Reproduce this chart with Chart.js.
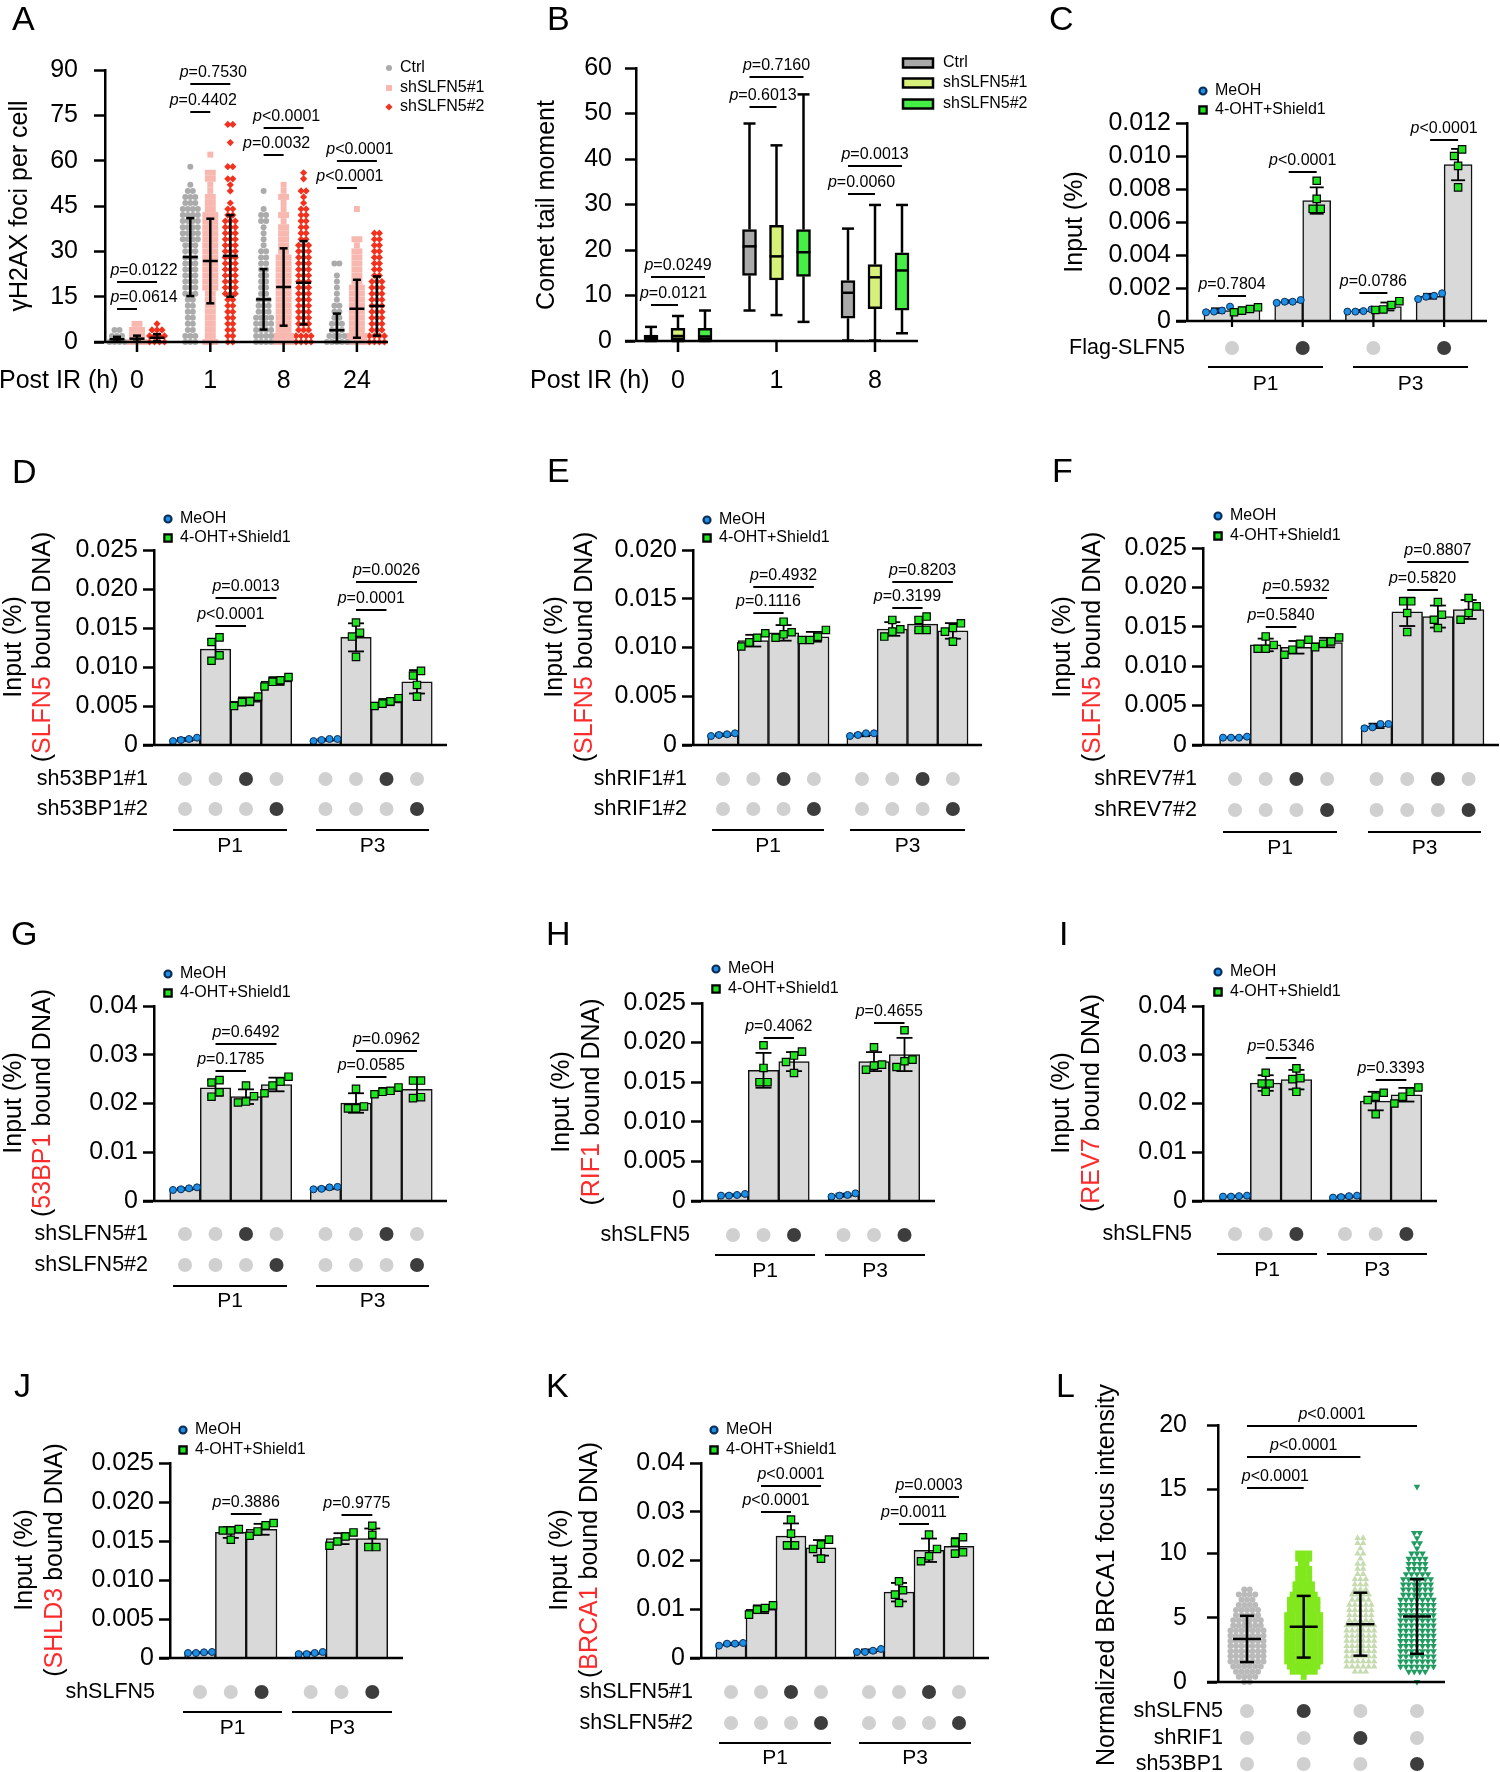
<!DOCTYPE html>
<html>
<head>
<meta charset="utf-8">
<script src="https://cdn.jsdelivr.net/npm/chart.js@4.4.1/dist/chart.umd.min.js"></script>
<style>
  html, body { margin: 0; padding: 0; background: #fff; }
  body { width: 1500px; height: 1772px; position: relative; overflow: hidden; }
  canvas { position: absolute; }
</style>
</head>
<body>
<script>
const FONT = '"Liberation Sans", Arial, Helvetica, sans-serif';
const RED = '#ff2b2b';
const BLUE = '#1c8fe6';
const GREEN = '#1ee61e';
const BAR_FILL = '#d9d9d9';
const DOT_OFF = '#d0d0d0';
const DOT_ON = '#3d3d3d';

// ---------- shared categories ----------
const pGroups = ['P1', 'P3'];
const sh1On = [0, 0, 1, 0, 0, 0, 1, 0];
const sh2On = [0, 0, 0, 1, 0, 0, 0, 1];
const shOn3 = [0, 0, 1, 0, 0, 1];

// ---------- A: yH2AX foci per cell (rows of cells per foci count) ----------
const aTimes = ['0', '1', '8', '24'];
const aNames = ['Ctrl', 'shSLFN5#1', 'shSLFN5#2'];
const aBins = [0, 2, 4, 6, 8, 10, 12, 14, 16, 18, 20, 22, 24, 26, 28, 30, 32, 34, 36, 38, 40, 42, 44, 46, 48, 50, 52, 54, 56, 58, 60, 62, 64, 66, 68, 70, 72];
const aCtrlH0 = [4, 3, 2];
const aSh1H0 = [4, 3, 3, 2];
const aSh2H0 = [4, 4, 3, 1];
const aCtrlH1 = [3, 3, 2, 2, 2, 2, 2, 2, 3, 3, 3, 3, 3, 3, 3, 3, 3, 4, 4, 4, 4, 4, 4, 3, 3, 2, 1, 0, 0, 1];
const aSh1H1 = [3, 2, 2, 2, 2, 2, 2, 2, 2, 3, 3, 3, 3, 3, 3, 3, 3, 3, 3, 3, 3, 3, 2, 2, 2, 1, 1, 2, 2, 0, 0, 1];
const aSh2H1 = [2, 2, 2, 2, 2, 2, 2, 2, 3, 3, 3, 3, 3, 3, 3, 3, 3, 3, 3, 3, 3, 2, 2, 1, 0, 1, 1, 2, 0, 2, 0, 0, 0, 1, 0, 0, 2];
const aCtrlH8 = [4, 4, 4, 4, 4, 3, 3, 3, 2, 2, 2, 2, 2, 2, 2, 2, 1, 1, 1, 1, 2, 2, 1, 0, 0, 1];
const aSh1H8 = [4, 4, 3, 3, 3, 3, 3, 3, 3, 3, 3, 3, 3, 3, 3, 2, 2, 2, 2, 2, 1, 2, 1, 1, 2, 1, 1];
const aSh2H8 = [4, 4, 3, 3, 3, 3, 3, 3, 3, 3, 3, 3, 3, 3, 3, 3, 3, 2, 2, 2, 2, 2, 2, 1, 1, 2, 0, 1, 1];
const aCtrlH24 = [5, 4, 3, 3, 2, 2, 2, 1, 1, 1, 1, 1, 0, 2];
const aSh1H24 = [4, 4, 3, 3, 3, 3, 3, 3, 3, 3, 2, 2, 2, 2, 2, 2, 1, 2, 0, 0, 0, 0, 1];
const aSh2H24 = [4, 4, 3, 3, 3, 3, 3, 3, 3, 3, 3, 2, 2, 2, 2, 2, 2, 2, 2];
const aMeanCtrl = [0.9, 28.1, 14.1, 3.9];
const aSdCtrl = [0.8, 12.9, 10.0, 5.5];
const aMeanSh1 = [1.1, 26.8, 18.2, 11.0];
const aSdSh1 = [1.0, 14.0, 12.8, 9.6];
const aMeanSh2 = [1.4, 28.5, 19.6, 11.9];
const aSdSh2 = [1.2, 13.5, 13.8, 9.8];
const aP = ['p=0.0122', 'p=0.0614', 'p=0.7530', 'p=0.4402', 'p<0.0001', 'p=0.0032', 'p<0.0001', 'p<0.0001'];

// ---------- B: comet tail moment, [min, q1, median, q3, max] ----------
const bTimes = ['0', '1', '8'];
const bCtrl = [[0, 0.2, 0.7, 1.3, 3.1], [6.7, 14.4, 20.8, 24.5, 47.8], [0.1, 5.0, 10.6, 13.3, 24.7]];
const bSh1 = [[0, 0.3, 1.1, 2.8, 5.5], [5.7, 13.4, 18.6, 25.4, 43.0], [0.1, 7.1, 14.0, 16.8, 29.9]];
const bSh2 = [[0, 0.3, 1.0, 2.8, 6.7], [4.2, 14.2, 19.5, 24.5, 54.2], [1.7, 6.8, 15.5, 19.4, 29.9]];
const bP = ['p=0.0249', 'p=0.0121', 'p=0.7160', 'p=0.6013', 'p=0.0013', 'p=0.0060'];

// ---------- C ----------
const cMean = [0.00063, 0.00068, 0.00118, 0.0073, 0.00061, 0.00088, 0.0015, 0.00948];
const cSd = [0.00014, 0.00013, 0.00007, 0.0008, 0.00006, 0.00024, 0.00015, 0.00095];
const cPts = [[0.00053, 0.00087, 0.00063, 0.00057], [0.00053, 0.00083, 0.00063, 0.00073], [0.0011, 0.00127, 0.00117, 0.00117], [0.0085, 0.0074, 0.0068, 0.0068],
              [0.00057, 0.0007, 0.00057, 0.0006], [0.0007, 0.00097, 0.0012, 0.00067], [0.00168, 0.00133, 0.00153, 0.00147], [0.0104, 0.0100, 0.0094, 0.0081]];
const cFlag = [0, 1, 0, 1];
const cP = ['p=0.7804', 'p<0.0001', 'p=0.0786', 'p<0.0001'];

// ---------- D: SLFN5 bound DNA, sh53BP1 ----------
const dMean = [0.00071, 0.0123, 0.0056, 0.0082, 0.00067, 0.0138, 0.0055, 0.0081];
const dSd = [0.00018, 0.0012, 0.0005, 0.0005, 0.00013, 0.0018, 0.0004, 0.0015];
const dPts = [[0.0005, 0.00094, 0.00064, 0.00077], [0.0132, 0.0138, 0.0108, 0.0115], [0.0050, 0.0056, 0.0062, 0.0055], [0.0075, 0.0083, 0.0087, 0.0081],
              [0.0005, 0.00077, 0.00064, 0.00077], [0.0157, 0.0144, 0.0139, 0.0113], [0.0050, 0.0056, 0.0060, 0.0053], [0.0095, 0.0089, 0.0077, 0.0062]];
const dP = ['p=0.0013', 'p<0.0001', 'p=0.0026', 'p=0.0001'];

// ---------- E: SLFN5 bound DNA, shRIF1 ----------
const eMean = [0.00105, 0.0107, 0.0115, 0.0111, 0.00104, 0.0119, 0.0124, 0.0117];
const eSd = [0.00012, 0.0006, 0.0008, 0.0005, 0.00014, 0.0007, 0.0007, 0.0008];
const ePts = [[0.00092, 0.0012, 0.00103, 0.0011], [0.0110, 0.01146, 0.0101, 0.01053], [0.0110, 0.01265, 0.01156, 0.01135], [0.01077, 0.0118, 0.0111, 0.01077],
              [0.00092, 0.0012, 0.00103, 0.0012], [0.01187, 0.01283, 0.01163, 0.01112], [0.01283, 0.01317, 0.0118, 0.0118], [0.0120, 0.01248, 0.01163, 0.0106]];
const eP = ['p=0.4932', 'p=0.1116', 'p=0.8203', 'p=0.3199'];

// ---------- F: SLFN5 bound DNA, shREV7 ----------
const fMean = [0.00096, 0.0127, 0.0124, 0.0130, 0.00243, 0.0169, 0.0163, 0.0172];
const fSd = [0.00007, 0.0008, 0.0008, 0.0006, 0.00028, 0.0018, 0.0014, 0.0012];
const fPts = [[0.00093, 0.00106, 0.00093, 0.00093], [0.01221, 0.01378, 0.0127, 0.01221], [0.01285, 0.01145, 0.01336, 0.0121], [0.01242, 0.01314, 0.01365, 0.01285],
              [0.00212, 0.00267, 0.00225, 0.00267], [0.01823, 0.01823, 0.01675, 0.01433], [0.01815, 0.01654, 0.0159, 0.01484], [0.01866, 0.0176, 0.01675, 0.0159]];
const fP = ['p=0.5932', 'p=0.5840', 'p=0.8807', 'p=0.5820'];

// ---------- G: 53BP1 bound DNA ----------
const gMean = [0.0025, 0.0232, 0.0214, 0.0239, 0.0026, 0.0201, 0.0226, 0.0229];
const gSd = [0.0002, 0.0016, 0.0015, 0.0014, 0.0002, 0.0020, 0.0006, 0.0020];
const gPts = [[0.00226, 0.0028, 0.0024, 0.0026], [0.0243, 0.0248, 0.0214, 0.0223], [0.0237, 0.0215, 0.0204, 0.0202], [0.0255, 0.0245, 0.0237, 0.0221],
              [0.0024, 0.0029, 0.0025, 0.0028], [0.0230, 0.0190, 0.0194, 0.0190], [0.0233, 0.0219, 0.0226, 0.0224], [0.0247, 0.0247, 0.0211, 0.0213]];
const gP = ['p=0.6492', 'p=0.1785', 'p=0.0962', 'p=0.0585'];

// ---------- H: RIF1 bound DNA ----------
const hMean = [0.00075, 0.0165, 0.0176, 0.00074, 0.0176, 0.0185];
const hSd = [0.0001, 0.0022, 0.0012, 0.00018, 0.0012, 0.0021];
const hPts = [[0.00068, 0.00089, 0.00068, 0.00076], [0.01966, 0.0168, 0.0150, 0.0150], [0.01836, 0.01886, 0.01755, 0.01616],
              [0.00055, 0.00097, 0.00068, 0.00076], [0.01658, 0.01941, 0.01722, 0.01709], [0.02156, 0.01785, 0.01764, 0.01692]];
const hP = ['p=0.4062', 'p=0.4655'];

// ---------- I: REV7 bound DNA ----------
const iMean = [0.00098, 0.0242, 0.0249, 0.0009, 0.0205, 0.0218];
const iSd = [0.0001, 0.0016, 0.0020, 0.0002, 0.0019, 0.0014];
const iPts = [[0.0009, 0.0011, 0.0009, 0.0010], [0.0263, 0.0241, 0.0241, 0.0224], [0.0272, 0.0252, 0.0250, 0.0224],
              [0.0007, 0.0011, 0.0008, 0.0010], [0.0214, 0.0222, 0.0207, 0.0178], [0.0224, 0.0233, 0.0214, 0.0200]];
const iP = ['p=0.5346', 'p=0.3393'];

// ---------- J: SHLD3 bound DNA ----------
const jMean = [0.00069, 0.0161, 0.0165, 0.00059, 0.0153, 0.0153];
const jSd = [0.00007, 0.0007, 0.0007, 0.0001, 0.0007, 0.0013];
const jPts = [[0.00064, 0.00077, 0.00064, 0.00073], [0.01652, 0.01635, 0.01516, 0.01635], [0.01567, 0.0170, 0.0173, 0.01623],
              [0.0005, 0.00077, 0.0005, 0.00064], [0.01558, 0.0161, 0.01439, 0.01494], [0.01695, 0.0158, 0.01422, 0.01422]];
const jP = ['p=0.3886', 'p=0.9775'];

// ---------- K: BRCA1 bound DNA ----------
const kMean = [0.00287, 0.0100, 0.0250, 0.0226, 0.00145, 0.0135, 0.0221, 0.0229];
const kSd = [0.00024, 0.0008, 0.0026, 0.0016, 0.0003, 0.0019, 0.0024, 0.0017];
const kPts = [[0.00253, 0.00308, 0.00294, 0.00294], [0.0108, 0.0089, 0.01026, 0.00992], [0.02839, 0.02551, 0.02312, 0.02312], [0.02428, 0.02237, 0.02326, 0.02038],
              [0.00123, 0.00185, 0.00123, 0.0015], [0.01573, 0.01389, 0.0130, 0.01129], [0.02531, 0.02237, 0.02086, 0.01984], [0.02476, 0.02373, 0.02168, 0.02141]];
const kP = ['p<0.0001', 'p<0.0001', 'p=0.0003', 'p=0.0011'];

// ---------- L: normalized BRCA1 focus intensity (rows of foci per level) ----------
const lBins = [0, 0.4, 0.8, 1.2, 1.6, 2, 2.4, 2.8, 3.2, 3.6, 4, 4.4, 4.8, 5.2, 5.6, 6, 6.4, 6.8, 7.2, 7.6, 8, 8.4, 8.8, 9.2, 9.6, 10, 10.4, 10.8, 11.2, 11.6, 12, 12.4, 12.8, 13.2, 13.6, 14, 14.4, 14.8, 15.2];
const lCtrl = [2, 4, 5, 6, 7, 7, 7, 7, 7, 7, 7, 6, 6, 5, 5, 4, 3, 4, 2];
const lShSlfn5 = [0, 1, 5, 6, 7, 7, 7, 7, 7, 7, 7, 7, 7, 7, 6, 6, 6, 5, 4, 4, 3, 3, 3, 2, 3, 3];
const lShRif1 = [0, 0, 3, 6, 6, 6, 6, 6, 6, 6, 6, 6, 5, 5, 5, 5, 4, 4, 3, 3, 3, 2, 2, 2, 1, 2, 1, 2, 2];
const lSh53bp1 = [1, 0, 4, 7, 7, 7, 7, 7, 7, 7, 7, 7, 7, 7, 7, 7, 7, 6, 6, 6, 6, 5, 4, 4, 4, 3, 1, 2, 1, 2, 0, 0, 0, 0, 0, 0, 0, 0, 1];
const lMean = [3.35, 4.3, 4.5, 5.1];
const lSd = [1.8, 2.4, 2.45, 2.9];
const lSlfn5On = [0, 1, 0, 0];
const lRif1On = [0, 0, 1, 0];
const l53bp1On = [0, 0, 0, 1];
const lP = ['p<0.0001', 'p<0.0001', 'p<0.0001'];

// ---------- drawing helpers ----------
function txt(ctx, s, x, y, size, align, base, style) {
  ctx.font = (style ? style + ' ' : '') + size + 'px ' + FONT;
  ctx.textAlign = align;
  ctx.textBaseline = base;
  ctx.fillText(s, x, y);
}

function seg(ctx, x1, y1, x2, y2, w) {
  ctx.lineWidth = w;
  ctx.beginPath();
  ctx.moveTo(x1, y1);
  ctx.lineTo(x2, y2);
  ctx.stroke();
}

// rotated (bottom-to-top) title made of coloured parts
function vtext(ctx, cx, cy, parts) {
  ctx.save();
  ctx.translate(cx, cy);
  ctx.rotate(-Math.PI / 2);
  ctx.font = '25px ' + FONT;
  ctx.textAlign = 'left';
  ctx.textBaseline = 'middle';
  const total = parts.reduce((s, p) => s + ctx.measureText(p[0]).width, 0);
  let x = -total / 2;
  parts.forEach(([t, col]) => {
    ctx.fillStyle = col;
    ctx.fillText(t, x, 0);
    x += ctx.measureText(t).width;
  });
  ctx.restore();
}

// "p=0.0013" with italic p
function ptext(ctx, cx, base, s) {
  const rest = s.slice(1);
  ctx.font = 'italic 16px ' + FONT;
  const w1 = ctx.measureText('p').width;
  ctx.font = '16px ' + FONT;
  const w2 = ctx.measureText(rest).width;
  const x = cx - (w1 + w2) / 2;
  txt(ctx, 'p', x, base, 16, 'left', 'alphabetic', 'italic');
  txt(ctx, rest, x + w1, base, 16, 'left', 'alphabetic');
}

// put points that overlap vertically side by side in one row
function spread(vals, k, d) {
  const idx = vals.map((v, i) => i).sort((a, b) => vals[a] - vals[b]);
  const off = [];
  let row = [];
  const flush = () => { row.forEach((ii, n) => { off[ii] = (n - (row.length - 1) / 2) * d; }); row = []; };
  idx.forEach(i => {
    if (row.length && (vals[i] - vals[row[row.length - 1]]) * k >= d) flush();
    row.push(i);
  });
  flush();
  return off;
}

function rowsToPoints(counts, bins, cx, d) {
  const out = [];
  counts.forEach((n, b) => {
    for (let q = 0; q < n; q++) out.push({x: cx + (q - (n - 1) / 2) * d, y: bins[b]});
  });
  return out;
}

function tools(chart, L) {
  const [bl, bt] = L.box;
  return {
    ctx: chart.ctx,
    X: v => chart.scales.x.getPixelForValue(v),
    Y: v => chart.scales.y.getPixelForValue(v),
    px: x => x - bl,
    py: y => y - bt
  };
}

function common(T, L, colX) {
  const {ctx, X, px, py} = T;
  const [ax, , rx, zy] = L.area;
  ctx.save();
  ctx.strokeStyle = '#000';
  ctx.fillStyle = '#000';
  seg(ctx, px(ax - 11), py(zy), px(rx), py(zy), 2.5);
  txt(ctx, L.letter[0], px(L.letter[1]), py(L.letter[2]), 34, 'left', 'alphabetic');
  L.title.forEach(([cx, parts]) => vtext(ctx, px(cx), py(L.titleY), parts));
  ctx.fillStyle = '#000';
  L.br.forEach(([i, j, y, dx], n) => {
    const x1 = X(colX[i]), x2 = X(colX[j]);
    seg(ctx, x1, py(y), x2, py(y), 2);
    ptext(ctx, (x1 + x2) / 2 + (dx || 0), py(y) - 7, L.p[n]);
  });
  if (L.rows) {
    const dx = L.dotX || colX;
    L.rows.forEach(([label, y, on]) => {
      ctx.fillStyle = '#000';
      txt(ctx, label, px(L.rowX), py(y), 21.5, 'right', 'middle');
      on.forEach((v, i) => {
        ctx.fillStyle = v ? DOT_ON : DOT_OFF;
        ctx.beginPath();
        ctx.arc(X(dx[i]), py(y), 7, 0, Math.PI * 2);
        ctx.fill();
      });
    });
  }
  if (L.gl) {
    ctx.fillStyle = '#000';
    L.gl.forEach(([x1, x2], g) => {
      seg(ctx, px(x1), py(L.gy), px(x2), py(L.gy), 2.2);
      txt(ctx, pGroups[g], px((x1 + x2) / 2), py(L.gly), 21, 'center', 'middle');
    });
  }
  if (L.leg) {
    const [x, y1, y2] = L.leg;
    ctx.fillStyle = BLUE; ctx.strokeStyle = '#0b2d57';
    Chart.helpers.drawPoint(ctx, {pointStyle: 'circle', radius: 3.5, borderWidth: 1}, px(x), py(y1));
    ctx.fillStyle = GREEN; ctx.strokeStyle = '#000';
    Chart.helpers.drawPoint(ctx, {pointStyle: 'rect', radius: 5.2, borderWidth: 1.2}, px(x), py(y2));
    ctx.fillStyle = '#000';
    txt(ctx, 'MeOH', px(x + 12), py(y1), 16, 'left', 'middle');
    txt(ctx, '4-OHT+Shield1', px(x + 12), py(y2), 16, 'left', 'middle');
  }
  ctx.restore();
}

function makePanel(L, type, datasets, colX, under, extra) {
  const [bl, bt, bw, bh] = L.box;
  const [ax, ty, rx, zy] = L.area;
  const cv = document.createElement('canvas');
  cv.width = bw;
  cv.height = bh;
  cv.style.left = bl + 'px';
  cv.style.top = bt + 'px';
  document.body.appendChild(cv);
  const yW = 90;  // wide enough that the tick labels are not clipped
  return new Chart(cv, {
    type,
    data: {datasets},
    options: {
      responsive: false, animation: false, events: [], devicePixelRatio: 1,
      layout: {autoPadding: false, padding: {left: ax - bl - yW, top: ty - bt, right: bl + bw - rx, bottom: bt + bh - zy}},
      plugins: {legend: {display: false}, tooltip: {enabled: false}},
      scales: {
        x: {type: 'linear', min: 0, max: rx - ax, offset: false, display: false, grid: {offset: false}},
        y: {
          type: 'linear', min: 0, max: L.yMax,
          afterFit: s => { s.width = yW; },
          ticks: {stepSize: L.yStep, autoSkip: false, padding: L.tickPad, color: '#000',
                  font: {family: FONT, size: 25}, callback: v => v === 0 ? '0' : v.toFixed(L.dec)},
          grid: {drawOnChartArea: false, drawTicks: true, tickLength: 11, tickWidth: 2.5, tickColor: '#000'},
          border: {display: true, width: 2.5, color: '#000'}
        }
      }
    },
    plugins: [{
      id: 'deco',
      afterDatasetDraw(chart, args) { if (under && args.index === 0) under(tools(chart, L)); },
      afterDraw(chart) {
        const T = tools(chart, L);
        common(T, L, colX);
        if (extra) extra(T);
      }
    }]
  });
}

// bar + replicate dots + mean/SD panels (C..K)
function barPanel(L, mean, sd, pts) {
  const k = (L.area[3] - L.area[1]) / L.yMax;
  const xs = mean.map((m, i) => L.lead + L.pitch * (i % L.per) + L.gPitch * Math.floor(i / L.per));
  const meoh = [], oht = [];
  pts.forEach((vals, i) => {
    const off = spread(vals, k, 8);
    vals.forEach((v, n) => (i % L.per === 0 ? meoh : oht).push({x: xs[i] + off[n], y: v}));
  });
  const datasets = [
    {type: 'bar', data: xs.map((x, i) => ({x, y: mean[i]})), backgroundColor: BAR_FILL, borderColor: '#111',
     borderWidth: 1.5, barThickness: L.pitch, order: 2, clip: false},
    {type: 'scatter', data: meoh, pointStyle: 'circle', pointRadius: 3.5, backgroundColor: BLUE,
     borderColor: '#0b2d57', borderWidth: 1, order: 1, clip: false},
    {type: 'scatter', data: oht, pointStyle: 'rect', pointRadius: 5.2, backgroundColor: GREEN,
     borderColor: '#000', borderWidth: 1.2, order: 0, clip: false}
  ];
  const under = T => {
    const {ctx, X, Y} = T;
    ctx.save();
    ctx.strokeStyle = '#000';
    xs.forEach((x, i) => {
      const cx = X(x), t = Y(mean[i] + sd[i]), b = Y(Math.max(mean[i] - sd[i], 0)), h = L.cap / 2;
      seg(ctx, cx, t, cx, b, 1.8);
      seg(ctx, cx - h, t, cx + h, t, 1.8);
      seg(ctx, cx - h, b, cx + h, b, 1.8);
    });
    ctx.restore();
  };
  let extra = null;
  if (L.per === 2) {
    L.dotX = [];
    for (let i = 0; i < xs.length; i += 2) L.dotX.push((xs[i] + xs[i + 1]) / 2);
    extra = T => {
      T.ctx.strokeStyle = '#000';
      L.dotX.forEach(v => seg(T.ctx, T.X(v), T.py(L.area[3]), T.X(v), T.py(L.area[3] + 6), 2.2));
    };
  }
  makePanel(L, 'bar', datasets, xs, under, extra);
}

const inputTitle = (c1, c2, target) => [
  [c1, [['Input (%)', '#000']]],
  [c2, [['(', '#000'], [target, RED], [' bound DNA)', '#000']]]
];

// ---------- panel A ----------
(function () {
  const L = {box: [0, 0, 500, 420], area: [105, 70, 388, 342], yMax: 90, yStep: 15, dec: 0, tickPad: 16,
    letter: ['A', 12, 30], title: [[20, [['\u03b3H2AX foci per cell', '#000']]]], titleY: 206,
    br: [[0, 2, 282, 7], [0, 1, 309, 17], [3, 5, 84, 3], [3, 4, 112, 3], [6, 8, 128, 3], [6, 7, 155, 3], [9, 11, 161, 3], [9, 10, 188, 3]],
    p: aP};
  const g0 = 32, gp = 73.3, sp = 20, d = 5;
  const counts = [aCtrlH0, aSh1H0, aSh2H0, aCtrlH1, aSh1H1, aSh2H1, aCtrlH8, aSh1H8, aSh2H8, aCtrlH24, aSh1H24, aSh2H24];
  const means = [aMeanCtrl, aMeanSh1, aMeanSh2], sds = [aSdCtrl, aSdSh1, aSdSh2];
  const styles = [
    {pointStyle: 'circle', pointRadius: 3, backgroundColor: '#ababab'},
    {pointStyle: 'rect', pointRadius: 4.2, backgroundColor: '#f8b8b0'},
    {pointStyle: 'rectRot', pointRadius: 3.6, backgroundColor: '#f2321e'}
  ];
  const cols = [];
  aTimes.forEach((t, g) => aNames.forEach((n, s) => cols.push(g0 + gp * g + sp * (s - 1))));
  const datasets = counts.map((c, i) => Object.assign({type: 'scatter', data: rowsToPoints(c, aBins, cols[i], d),
    borderWidth: 0, clip: false}, styles[i % 3]));
  makePanel(L, 'scatter', datasets, cols, null, T => {
    const {ctx, X, Y, px, py} = T;
    ctx.save();
    ctx.strokeStyle = '#000';
    ctx.fillStyle = '#000';
    cols.forEach((c, i) => {
      const g = Math.floor(i / 3), s = i % 3;
      const m = means[s][g], sd = sds[s][g], x = X(c);
      const t = Y(m + sd), b = Y(Math.max(m - sd, 0)), y = Y(m);
      seg(ctx, x, t, x, b, 2.5);
      seg(ctx, x - 4, t, x + 4, t, 2.5);
      seg(ctx, x - 4, b, x + 4, b, 2.5);
      seg(ctx, x - 7.5, y, x + 7.5, y, 2.5);
    });
    aTimes.forEach((t, g) => {
      const x = X(g0 + gp * g);
      seg(ctx, x, py(342), x, py(352), 2.5);
      txt(ctx, t, x, py(381), 25, 'center', 'middle');
    });
    txt(ctx, 'Post IR (h)', px(-1), py(381), 25, 'left', 'middle');
    [68, 88, 107].forEach((y, s) => {
      ctx.fillStyle = styles[s].backgroundColor;
      Chart.helpers.drawPoint(ctx, {pointStyle: styles[s].pointStyle, radius: styles[s].pointRadius, borderWidth: 0}, px(389), py(y));
      ctx.fillStyle = '#000';
      txt(ctx, aNames[s], px(400), py(y), 16, 'left', 'middle');
    });
    ctx.restore();
  });
})();

// ---------- panel B ----------
(function () {
  const L = {box: [500, 0, 535, 420], area: [636, 68, 918, 341], yMax: 60, yStep: 10, dec: 0, tickPad: 13,
    letter: ['B', 547, 30], title: [[547, [['Comet tail moment', '#000']]]], titleY: 205,
    br: [[0, 2, 277], [0, 1, 305, 9], [3, 5, 77], [3, 4, 107], [6, 8, 166], [6, 7, 194]], p: bP};
  const g0 = 42, gp = 98.5, sp = 27, bw = 14;
  const groups = [bCtrl, bSh1, bSh2];
  const fills = ['#a9a9a9', '#d6f07a', '#46ef46'];
  const cols = [];
  bTimes.forEach((t, g) => groups.forEach((s, si) => cols.push(g0 + gp * g + sp * (si - 1))));
  const datasets = groups.map((grp, s) => ({
    type: 'bar', grouped: false, barThickness: bw, borderSkipped: false,
    data: grp.map((q, g) => ({x: cols[g * 3 + s], y: [q[1], q[3]]})),
    backgroundColor: fills[s], borderColor: '#000', borderWidth: 2.5, clip: false
  }));
  makePanel(L, 'bar', datasets, cols, null, T => {
    const {ctx, X, Y, px, py} = T;
    ctx.save();
    ctx.strokeStyle = '#000';
    ctx.fillStyle = '#000';
    groups.forEach((grp, s) => grp.forEach((q, g) => {
      const x = X(cols[g * 3 + s]);
      seg(ctx, x, Y(q[3]), x, Y(q[4]), 2.5);
      seg(ctx, x, Y(q[1]), x, Y(q[0]), 2.5);
      seg(ctx, x - 6, Y(q[4]), x + 6, Y(q[4]), 2.5);
      seg(ctx, x - 6, Y(q[0]), x + 6, Y(q[0]), 2.5);
      seg(ctx, x - bw / 2, Y(q[2]), x + bw / 2, Y(q[2]), 2.5);
    }));
    bTimes.forEach((t, g) => {
      const x = X(g0 + gp * g);
      seg(ctx, x, py(341), x, py(352), 2.5);
      txt(ctx, t, x, py(381), 25, 'center', 'middle');
    });
    txt(ctx, 'Post IR (h)', px(530), py(381), 25, 'left', 'middle');
    [63, 83, 104].forEach((y, s) => {
      ctx.fillStyle = fills[s];
      ctx.fillRect(px(903), py(y) - 4.5, 30, 9);
      ctx.lineWidth = 2.5;
      ctx.strokeRect(px(903), py(y) - 4.5, 30, 9);
      ctx.fillStyle = '#000';
      txt(ctx, aNames[s], px(943), py(y), 16, 'left', 'middle');
    });
    ctx.restore();
  });
})();

// ---------- panels C..K ----------
barPanel({box: [1035, 0, 465, 420], area: [1187, 123, 1487, 321], yMax: 0.012, yStep: 0.002, dec: 3, tickPad: 5,
  letter: ['C', 1049, 30], title: [[1075, [['Input (%)', '#000']]]], titleY: 222,
  lead: 31, pitch: 28, gPitch: 70.7, per: 2, cap: 14,
  br: [[0, 1, 296], [2, 3, 172], [4, 5, 293], [6, 7, 140]], p: cP, leg: [1203, 91, 110],
  rows: [['Flag-SLFN5', 348, cFlag]], rowX: 1185, gl: [[1208, 1323], [1353, 1468]], gy: 367, gly: 384},
  cMean, cSd, cPts);

barPanel({box: [0, 440, 500, 440], area: [154, 550, 447, 745], yMax: 0.025, yStep: 0.005, dec: 3, tickPad: 5,
  letter: ['D', 12, 483], title: inputTitle(14, 43, 'SLFN5'), titleY: 647,
  lead: 31, pitch: 30.5, gPitch: 140.5, per: 4, cap: 16,
  br: [[1, 3, 598], [1, 2, 626], [5, 7, 582], [5, 6, 610]], p: dP, leg: [168, 519, 538],
  rows: [['sh53BP1#1', 779, sh1On], ['sh53BP1#2', 809, sh2On]], rowX: 148,
  gl: [[173, 287], [316, 429]], gy: 830, gly: 846},
  dMean, dSd, dPts);

barPanel({box: [500, 440, 535, 440], area: [693, 550, 982, 745], yMax: 0.020, yStep: 0.005, dec: 3, tickPad: 5,
  letter: ['E', 547, 482], title: inputTitle(555, 585, 'SLFN5'), titleY: 647,
  lead: 30, pitch: 30.3, gPitch: 139, per: 4, cap: 16,
  br: [[1, 3, 587], [1, 2, 613], [5, 7, 582], [5, 6, 608]], p: eP, leg: [707, 520, 538],
  rows: [['shRIF1#1', 779, sh1On], ['shRIF1#2', 809, sh2On]], rowX: 687,
  gl: [[712, 824], [850, 965]], gy: 830, gly: 846},
  eMean, eSd, ePts);

barPanel({box: [1035, 440, 465, 440], area: [1203, 548, 1499, 745], yMax: 0.025, yStep: 0.005, dec: 3, tickPad: 5,
  letter: ['F', 1052, 482], title: inputTitle(1063, 1093, 'SLFN5'), titleY: 647,
  lead: 32, pitch: 30.7, gPitch: 141.5, per: 4, cap: 16,
  br: [[1, 3, 598], [1, 2, 627], [5, 7, 562], [5, 6, 590]], p: fP, leg: [1218, 516, 536],
  rows: [['shREV7#1', 779, sh1On], ['shREV7#2', 810, sh2On]], rowX: 1197,
  gl: [[1223, 1337], [1368, 1481]], gy: 832, gly: 848},
  fMean, fSd, fPts);

barPanel({box: [0, 900, 500, 440], area: [154, 1006, 447, 1201], yMax: 0.04, yStep: 0.01, dec: 2, tickPad: 5,
  letter: ['G', 11, 945], title: inputTitle(14, 43, '53BP1'), titleY: 1103,
  lead: 31, pitch: 30.5, gPitch: 140.5, per: 4, cap: 16,
  br: [[1, 3, 1044], [1, 2, 1071], [5, 7, 1051], [5, 6, 1077]], p: gP, leg: [168, 974, 993],
  rows: [['shSLFN5#1', 1234, sh1On], ['shSLFN5#2', 1265, sh2On]], rowX: 148,
  gl: [[173, 287], [316, 429]], gy: 1286, gly: 1301},
  gMean, gSd, gPts);

barPanel({box: [500, 900, 535, 440], area: [702, 1003, 935, 1201], yMax: 0.025, yStep: 0.005, dec: 3, tickPad: 5,
  letter: ['H', 546, 945], title: inputTitle(562, 592, 'RIF1'), titleY: 1102,
  lead: 31, pitch: 30.5, gPitch: 110.5, per: 3, cap: 16,
  br: [[1, 2, 1038], [4, 5, 1023]], p: hP, leg: [716, 969, 989],
  rows: [['shSLFN5', 1235, shOn3]], rowX: 690,
  gl: [[715, 815], [825, 925]], gy: 1255, gly: 1271},
  hMean, hSd, hPts);

barPanel({box: [1035, 900, 465, 440], area: [1203, 1006, 1437, 1201], yMax: 0.04, yStep: 0.01, dec: 2, tickPad: 5,
  letter: ['I', 1059, 945], title: inputTitle(1062, 1092, 'REV7'), titleY: 1103,
  lead: 32, pitch: 30.7, gPitch: 110, per: 3, cap: 16,
  br: [[1, 2, 1058], [4, 5, 1080]], p: iP, leg: [1218, 972, 992],
  rows: [['shSLFN5', 1234, shOn3]], rowX: 1192,
  gl: [[1217, 1317], [1327, 1427]], gy: 1254, gly: 1270},
  iMean, iSd, iPts);

barPanel({box: [0, 1360, 500, 412], area: [170, 1463, 403, 1658], yMax: 0.025, yStep: 0.005, dec: 3, tickPad: 5,
  letter: ['J', 14, 1397], title: inputTitle(25, 55, 'SHLD3'), titleY: 1560,
  lead: 30, pitch: 30.8, gPitch: 110.7, per: 3, cap: 16,
  br: [[1, 2, 1514], [4, 5, 1515]], p: jP, leg: [183, 1430, 1450],
  rows: [['shSLFN5', 1692, shOn3]], rowX: 155,
  gl: [[183, 282], [292, 392]], gy: 1712, gly: 1728},
  jMean, jSd, jPts);

barPanel({box: [500, 1360, 535, 412], area: [701, 1463, 989, 1658], yMax: 0.04, yStep: 0.01, dec: 2, tickPad: 5,
  letter: ['K', 546, 1397], title: inputTitle(560, 590, 'BRCA1'), titleY: 1560,
  lead: 30, pitch: 30, gPitch: 138, per: 4, cap: 16,
  br: [[1, 3, 1486], [1, 2, 1512], [5, 7, 1497], [5, 6, 1524]], p: kP, leg: [714, 1430, 1450],
  rows: [['shSLFN5#1', 1692, sh1On], ['shSLFN5#2', 1723, sh2On]], rowX: 693,
  gl: [[719, 831], [859, 971]], gy: 1743, gly: 1758},
  kMean, kSd, kPts);

// ---------- panel L ----------
(function () {
  const L = {box: [1035, 1360, 465, 412], area: [1218, 1425, 1445, 1682], yMax: 20, yStep: 5, dec: 0, tickPad: 20,
    letter: ['L', 1056, 1397], title: [[1107, [['Normalized BRCA1 focus intensity', '#000']]]], titleY: 1575,
    br: [[0, 3, 1426], [0, 2, 1457], [0, 1, 1488]], p: lP,
    rows: [['shSLFN5', 1711, lSlfn5On], ['shRIF1', 1738, lRif1On], ['sh53BP1', 1764, l53bp1On]], rowX: 1223};
  const cols = [29, 85.7, 142.4, 199];
  const counts = [lCtrl, lShSlfn5, lShRif1, lSh53bp1];
  const styles = [
    {pointStyle: 'circle', pointRadius: 3, backgroundColor: '#bababa'},
    {pointStyle: 'rect', pointRadius: 4.2, backgroundColor: '#80e81c'},
    {pointStyle: 'triangle', pointRadius: 3.8, backgroundColor: '#c6dbb0'},
    {pointStyle: 'triangle', pointRadius: 3.8, rotation: 180, backgroundColor: '#209c60'}
  ];
  const datasets = counts.map((c, i) => Object.assign({type: 'scatter', data: rowsToPoints(c, lBins, cols[i], 5.5),
    borderWidth: 0, clip: false}, styles[i]));
  makePanel(L, 'scatter', datasets, cols, null, T => {
    const {ctx, X, Y} = T;
    ctx.save();
    ctx.strokeStyle = '#000';
    cols.forEach((c, i) => {
      const x = X(c), t = Y(lMean[i] + lSd[i]), b = Y(lMean[i] - lSd[i]), y = Y(lMean[i]);
      seg(ctx, x, t, x, b, 2.5);
      seg(ctx, x - 7, t, x + 7, t, 2.5);
      seg(ctx, x - 7, b, x + 7, b, 2.5);
      seg(ctx, x - 14, y, x + 14, y, 2.5);
    });
    ctx.restore();
  });
})();
</script>
</body>
</html>
